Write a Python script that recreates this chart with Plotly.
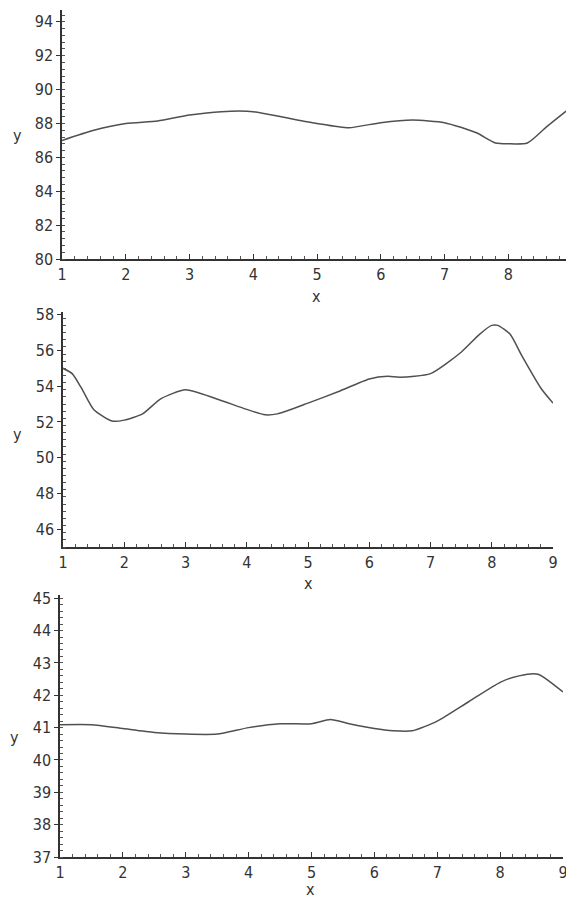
import plotly.graph_objects as go

# ---- data ----
x1 = [1, 1.5, 2, 2.5, 3, 3.5, 4, 4.5, 5, 5.5, 6, 6.5, 7, 7.5, 7.8, 8, 8.3, 8.6, 9]
y1 = [87.0, 87.6, 88.0, 88.15, 88.5, 88.7, 88.7, 88.35, 88.0, 87.75, 88.05, 88.2, 88.05, 87.45, 86.85, 86.8, 86.85, 87.8, 89.0]

x2 = [1, 1.15, 1.3, 1.5, 1.8, 2, 2.3, 2.6, 3, 3.5, 4, 4.3, 4.5, 5, 5.5, 6, 6.3, 6.5, 7, 7.5, 7.8, 8, 8.1, 8.3, 8.5, 8.8, 9]
y2 = [55.0, 54.7, 53.9, 52.7, 52.05, 52.1, 52.45, 53.3, 53.8, 53.3, 52.7, 52.4, 52.45, 53.05, 53.7, 54.4, 54.55, 54.5, 54.7, 55.9, 56.9, 57.4, 57.4, 56.9, 55.65, 53.9, 53.05]

x3 = [1, 1.5, 2, 2.5, 3, 3.5, 4, 4.5, 5, 5.3, 5.6, 6, 6.3, 6.6, 7, 7.5, 8, 8.3, 8.6, 9]
y3 = [41.09, 41.09, 40.97, 40.85, 40.8, 40.8, 41.0, 41.12, 41.12, 41.25, 41.12, 40.97, 40.9, 40.9, 41.2, 41.8, 42.4, 42.6, 42.65, 42.1]

xticks = [1, 2, 3, 4, 5, 6, 7, 8, 9]
yticks1 = [80, 82, 84, 86, 88, 90, 92, 94]
yticks2 = [46, 48, 50, 52, 54, 56, 58]
yticks3 = [37, 38, 39, 40, 41, 42, 43, 44, 45]

OFF = 8  # page body margin
W, H = 574 - OFF, 899 - OFF

def px_dom(a, b):
    return [(a - OFF) / W, (b - OFF) / W]

def py_dom(top, bottom):
    return [1 - (bottom - OFF) / H, 1 - (top - OFF) / H]

fig = go.Figure()
line = dict(color="#505050", width=1.5, shape="spline", smoothing=0.6)
fig.add_trace(go.Scatter(x=x1, y=y1, mode="lines", line=line, xaxis="x", yaxis="y", hoverinfo="skip"))
fig.add_trace(go.Scatter(x=x2, y=y2, mode="lines", line=line, xaxis="x2", yaxis="y2", hoverinfo="skip"))
fig.add_trace(go.Scatter(x=x3, y=y3, mode="lines", line=line, xaxis="x3", yaxis="y3", hoverinfo="skip"))

font = dict(family="DejaVu Sans Condensed, Liberation Sans Narrow, Liberation Sans, sans-serif", size=16, color="#333333")

def xax(dom, anchor):
    return dict(domain=dom, anchor=anchor, range=[1, 9], tickvals=xticks,
                ticks="inside", ticklen=5, tickwidth=1.2, tickcolor="#333",
                showline=True, linecolor="#333", linewidth=1.5,
                showgrid=False, zeroline=False, tickfont=font, automargin=False,
                minor=dict(ticks="inside", dtick=0.2, tick0=1, ticklen=3, tickcolor="#555", showgrid=False),
                fixedrange=True)

def yax(dom, anchor, rng, tv, mdt):
    return dict(domain=dom, anchor=anchor, range=rng, tickvals=tv,
                ticks="outside", ticklen=4, tickwidth=1.2, tickcolor="#333",
                showline=True, linecolor="#333", linewidth=1.5,
                showgrid=False, zeroline=False, tickfont=font, automargin=False,
                minor=dict(ticks="inside", dtick=mdt, tick0=rng[0], ticklen=3, tickcolor="#555", showgrid=False),
                fixedrange=True)

fig.update_layout(
    width=W, height=H,
    margin=dict(l=0, r=0, t=0, b=0, autoexpand=False),
    paper_bgcolor="white", plot_bgcolor="white",
    showlegend=False,
    xaxis=xax(px_dom(62, 572), "y"),
    yaxis=yax(py_dom(10, 259), "x", [80, 94.7], yticks1, 0.4),
    xaxis2=xax(px_dom(63, 553), "y2"),
    yaxis2=yax(py_dom(312, 547), "x2", [45, 58.15], yticks2, 0.4),
    xaxis3=xax(px_dom(60, 563), "y3"),
    yaxis3=yax(py_dom(595, 857), "x3", [37, 45.1], yticks3, 0.2),
)

labels = [("y", 17, 135), ("x", 316, 296),
          ("y", 17, 435), ("x", 308, 583),
          ("y", 14, 737), ("x", 310, 889)]
for txt, px, py in labels:
    fig.add_annotation(text=txt, x=(px - OFF) / W, y=1 - (py - OFF) / H, xref="paper", yref="paper",
                       showarrow=False, font=font, xanchor="center", yanchor="middle")

fig.write_html("out.html")
